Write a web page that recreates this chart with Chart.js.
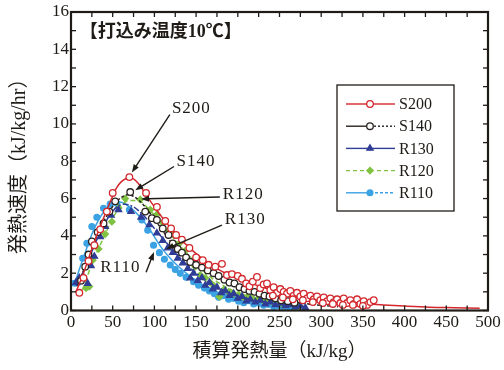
<!DOCTYPE html>
<html>
<head>
<meta charset="utf-8">
<script src="https://cdn.jsdelivr.net/npm/chart.js@4.4.1/dist/chart.umd.min.js"></script>
<style>
  html, body { margin: 0; padding: 0; background: #ffffff; }
  canvas { display: block; }
</style>
</head>
<body>
<canvas id="chart" width="504" height="370" style="width:504px;height:370px"></canvas>
<script>
// ---- measured heat-generation rate vs. cumulative heat (placing temperature 10 °C) ----
const SERIES_NAMES = ['S200', 'S140', 'R130', 'R120', 'R110'];

// measured points [cumulative heat kJ/kg, rate kJ/kg/hr]
const S200_POINTS = [[10,0.95],[15,1.75],[21,2.65],[28,3.5],[35,4.35],[43,5.3],[50,6.3],[70,7.15],[90,6.3],[103,5.55],[113,4.8],[120,4.4],[126,4.05],[133,3.8],[142,3.35],[150,2.85],[158,2.7],[165,2.45],[173,2.35],[181,2.5],[187,1.9],[193,1.95],[200,1.85],[205,1.7],[210,1.45],[214,1.3],[218,1.55],[223,1.8],[227,1.2],[231,1.4],[235,1.45],[239,1.1],[243,1.25],[247,0.95],[251,1.15],[255,1.0],[259,0.9],[263,1.05],[267,0.8],[271,0.95],[275,0.75],[279,0.9],[283,0.65],[287,0.8],[291,0.6],[295,0.75],[299,0.55],[303,0.7],[307,0.5],[311,0.65],[315,0.45],[319,0.6],[323,0.4],[327,0.65],[331,0.4],[335,0.55],[339,0.35],[343,0.6],[347,0.35],[351,0.5],[355,0.3],[359,0.45],[363,0.55],[242,0.8],[254,0.7],[266,0.6],[278,0.55],[290,0.45],[302,0.4],[314,0.35],[326,0.3],[338,0.3],[350,0.25]];
const S140_POINTS = [[12,1.6],[17,2.35],[21,3.0],[25,3.7],[32,4.2],[39,4.67],[46,5.3],[53,5.85],[71,6.35],[89,5.3],[97,4.95],[103,4.85],[110,4.4],[117,4.05],[122,3.6],[128,3.3],[133,3.1],[138,2.85],[143,2.6],[150,2.45],[157,2.3],[164,2.15],[171,2.0],[177,1.85],[184,1.65],[190,1.5],[196,1.45],[202,1.25],[208,1.15],[214,1.05],[220,1.0],[226,0.9],[232,0.8],[238,0.75],[245,0.65],[252,0.55],[260,0.5],[268,0.42]];
const R130_POINTS = [[6,1.5],[10,1.75],[15,1.8],[20,1.45],[24,2.4],[28,2.9],[35,3.95],[41,4.5],[48,5.1],[57,5.4],[72,5.3],[84,5.0],[94,4.6],[103,4.15],[110,3.75],[116,3.35],[122,3.1],[128,2.8],[134,2.55],[140,2.25],[143,1.74],[147,2.0],[152,1.6],[157,1.75],[161,1.35],[166,1.5],[170,1.15],[175,1.25],[180,0.95],[185,1.05],[190,0.8],[195,0.9],[200,0.65],[205,0.75],[210,0.5],[215,0.6],[221,0.45],[227,0.55],[233,0.35],[239,0.45],[245,0.3],[251,0.4],[257,0.25],[263,0.3],[269,0.2],[275,0.25],[281,0.15]];
const R120_POINTS = [[18,1.2],[22,1.28],[26,2.7],[33,3.3],[41,4.1],[49,4.76],[57,5.5],[65,6.0],[83,5.95],[95,5.4],[103,5.15],[110,4.7],[117,4.3],[123,4.05],[130,3.6],[137,3.2],[143,2.7],[149,2.35],[155,1.9],[161,1.75],[167,1.5],[172,1.3],[178,0.74],[183,1.1],[189,1.0],[195,0.9],[201,0.85],[207,0.7],[213,0.8],[219,0.6],[225,0.65],[231,0.5],[237,0.55],[243,0.4],[249,0.45],[255,0.3],[261,0.35],[267,0.25],[273,0.2]];
const R110_POINTS = [[4,1.46],[8,1.5],[14,2.8],[19,3.6],[25,4.5],[31,5.0],[39,5.48],[47,5.7],[55,5.75],[70,5.4],[85,4.85],[92,4.3],[99,3.5],[106,3.1],[112,2.75],[119,2.44],[125,2.2],[131,1.99],[138,1.78],[147,1.54],[153,1.35],[160,1.2],[166,1.05],[172,0.9],[177,0.71],[183,0.8],[189,0.6],[195,0.65],[201,0.5],[207,0.42],[213,0.52],[219,0.35],[225,0.4],[231,0.28],[237,0.33],[243,0.2],[249,0.25],[255,0.15],[261,0.2],[267,0.1],[273,0.15]];

// fitted curves
const S200_FIT = [[6,1.0],[15,2.0],[25,3.3],[35,4.5],[45,5.6],[55,6.6],[65,7.05],[72,7.1],[80,6.85],[90,6.2],[100,5.55],[110,4.95],[120,4.4],[130,3.9],[140,3.45],[150,3.05],[160,2.7],[175,2.25],[190,1.9],[210,1.55],[230,1.25],[250,1.0],[275,0.78],[300,0.6],[325,0.47],[350,0.38],[375,0.3],[400,0.24],[430,0.18],[460,0.15],[490,0.12]];
const S140_FIT = [[8,1.3],[18,2.5],[30,3.9],[42,5.0],[52,5.7],[60,6.05],[68,6.2],[76,6.1],[88,5.6],[100,4.9],[112,4.15],[125,3.4],[140,2.75],[155,2.3],[170,1.95],[190,1.5],[210,1.15],[235,0.8],[260,0.52],[290,0.32],[320,0.2]];
const R130_FIT = [[6,1.3],[18,2.4],[32,3.9],[45,5.0],[55,5.55],[65,5.7],[75,5.55],[88,5.05],[100,4.4],[115,3.6],[130,2.85],[145,2.2],[165,1.5],[190,0.95],[220,0.55],[250,0.32],[280,0.2]];
const R120_FIT = [[14,1.1],[25,2.5],[38,3.8],[50,4.95],[60,5.6],[70,5.9],[80,5.9],[92,5.5],[105,4.85],[120,4.05],[135,3.25],[150,2.5],[170,1.7],[195,1.05],[225,0.62],[255,0.36],[280,0.22]];
const R110_FIT = [[4,1.4],[15,2.85],[28,4.4],[42,5.45],[52,5.8],[60,5.8],[70,5.55],[82,5.05],[95,4.3],[108,3.4],[122,2.65],[138,2.0],[155,1.45],[175,1.0],[200,0.62],[230,0.35],[260,0.2],[280,0.12]];

// axis ranges and ticks
const X_RANGE = [0, 500];
const Y_RANGE = [0, 16];
const X_LABEL_STEP = 50, X_MINOR_STEP = 25;
const Y_LABEL_STEP = 2, Y_MINOR_STEP = 1;

const PANEL_TITLE = '【打込み温度10℃】';
const X_TITLE = '積算発熱量（kJ/kg）';
const Y_TITLE = '発熱速度（kJ/kg/hr）';

// ---- styles ----
const SERIF = '"Liberation Serif", "Noto Sans CJK JP", serif';
const INK = '#1f1b16';
const STYLE = {
  S200: { color: '#d3282d', fill: '#ffffff', pointStyle: 'circle',   radius: 3.3, dash: [],          legendDash: [[], []] },
  S140: { color: '#2a2320', fill: '#ffffff', pointStyle: 'circle',   radius: 3.3, dash: [3, 2],      legendDash: [[], [2, 2]] },
  R130: { color: '#2f3d96', fill: '#2f3d96', pointStyle: 'triangle', radius: 3.6, dash: [6, 2, 2, 2], legendDash: [[], []] },
  R120: { color: '#7fc241', fill: '#7fc241', pointStyle: 'rectRot',  radius: 3.2, dash: [5, 3],      legendDash: [[4, 3], [4, 3]] },
  R110: { color: '#3ba2e3', fill: '#3ba2e3', pointStyle: 'circle',   radius: 2.9, dash: [],          legendDash: [[], [3, 2]] }
};
const POINTS = { S200: S200_POINTS, S140: S140_POINTS, R130: R130_POINTS, R120: R120_POINTS, R110: R110_POINTS };
const FITS = { S200: S200_FIT, S140: S140_FIT, R130: R130_FIT, R120: R120_FIT, R110: R110_FIT };

// callout labels with arrows, in data units
const CALLOUTS = [
  { text: 'S200', at: [121, 10.84], from: [118.5, 10.5], to: [73, 7.4] },
  { text: 'S140', at: [126.5, 7.97], from: [123.5, 7.72], to: [77, 6.45] },
  { text: 'R120', at: [182, 6.19], from: [178.5, 6.08], to: [84, 5.98] },
  { text: 'R130', at: [184.5, 4.85], from: [181, 4.58], to: [114, 3.3] },
  { text: 'R110', at: [35, 2.28], from: [90, 2.05], to: [99.5, 3.13] }
];

const toXY = arr => arr.map(([x, y]) => ({ x, y }));

const datasets = [];
SERIES_NAMES.forEach(name => {
  const s = STYLE[name];
  datasets.push({
    label: name + ' measured',
    type: 'scatter',
    data: toXY(POINTS[name]),
    showLine: false,
    pointStyle: s.pointStyle,
    pointRadius: s.radius,
    pointBorderWidth: 1.3,
    pointBorderColor: s.color,
    pointBackgroundColor: s.fill
  });
  datasets.push({
    label: name,
    type: 'line',
    data: toXY(FITS[name]),
    showLine: true,
    fill: false,
    borderColor: s.color,
    borderWidth: 1.5,
    borderDash: s.dash,
    pointRadius: 0,
    cubicInterpolationMode: 'monotone'
  });
});

function drawLine(ctx, x1, y1, x2, y2) {
  ctx.beginPath(); ctx.moveTo(x1, y1); ctx.lineTo(x2, y2); ctx.stroke();
}

// box frame with inward ticks on all four sides
const framePlugin = {
  id: 'frame',
  afterDatasetsDraw(chart) {
    const { ctx, chartArea: a, scales: { x, y } } = chart;
    ctx.save();
    ctx.strokeStyle = INK;
    ctx.lineWidth = 1.3;
    ctx.setLineDash([]);
    for (let v = X_RANGE[0]; v <= X_RANGE[1]; v += X_MINOR_STEP) {
      const px = x.getPixelForValue(v);
      drawLine(ctx, px, a.bottom, px, a.bottom - 5);
      drawLine(ctx, px, a.top, px, a.top + 5);
    }
    for (let v = Y_RANGE[0]; v <= Y_RANGE[1]; v += Y_MINOR_STEP) {
      const py = y.getPixelForValue(v);
      drawLine(ctx, a.left, py, a.left + 5, py);
      drawLine(ctx, a.right, py, a.right - 5, py);
    }
    ctx.lineWidth = 2.2;
    ctx.strokeRect(a.left, a.top, a.right - a.left, a.bottom - a.top);
    ctx.restore();
  }
};

// panel title, callouts and legend
const notesPlugin = {
  id: 'notes',
  afterDraw(chart) {
    const { ctx, chartArea: a, scales: { x, y } } = chart;
    ctx.save();

    // panel title
    ctx.fillStyle = INK;
    ctx.font = 'bold 18px ' + SERIF;
    ctx.textAlign = 'left';
    ctx.textBaseline = 'middle';
    ctx.fillText(PANEL_TITLE, x.getPixelForValue(10.5), y.getPixelForValue(14.92));

    // callouts
    ctx.font = '17px ' + SERIF;
    if ('letterSpacing' in ctx) ctx.letterSpacing = '1px';
    CALLOUTS.forEach(c => {
      ctx.fillStyle = INK;
      ctx.fillText(c.text, x.getPixelForValue(c.at[0]), y.getPixelForValue(c.at[1]));
      const x1 = x.getPixelForValue(c.from[0]), y1 = y.getPixelForValue(c.from[1]);
      const x2 = x.getPixelForValue(c.to[0]), y2 = y.getPixelForValue(c.to[1]);
      const ang = Math.atan2(y2 - y1, x2 - x1);
      const head = 8, half = 3;
      ctx.strokeStyle = INK;
      ctx.lineWidth = 1.4;
      drawLine(ctx, x1, y1, x2 - Math.cos(ang) * head * 0.8, y2 - Math.sin(ang) * head * 0.8);
      ctx.beginPath();
      ctx.moveTo(x2, y2);
      ctx.lineTo(x2 - Math.cos(ang) * head + Math.sin(ang) * half, y2 - Math.sin(ang) * head - Math.cos(ang) * half);
      ctx.lineTo(x2 - Math.cos(ang) * head - Math.sin(ang) * half, y2 - Math.sin(ang) * head + Math.cos(ang) * half);
      ctx.closePath();
      ctx.fill();
    });
    if ('letterSpacing' in ctx) ctx.letterSpacing = '0px';

    // legend
    const bx = a.left + 266, by = a.top + 73, bw = 117, bh = 126;
    ctx.fillStyle = '#ffffff';
    ctx.fillRect(bx, by, bw, bh);
    ctx.strokeStyle = INK;
    ctx.lineWidth = 1.3;
    ctx.strokeRect(bx, by, bw, bh);
    ctx.font = '16px ' + SERIF;
    SERIES_NAMES.forEach((name, i) => {
      const s = STYLE[name];
      const ry = by + 19 + i * 22.2;
      const mx = bx + 33;
      ctx.strokeStyle = s.color;
      ctx.lineWidth = 1.4;
      ctx.setLineDash(s.legendDash[0]);
      drawLine(ctx, bx + 9, ry, mx, ry);
      ctx.setLineDash(s.legendDash[1]);
      drawLine(ctx, mx, ry, bx + 58, ry);
      ctx.setLineDash([]);
      ctx.fillStyle = s.fill;
      ctx.strokeStyle = s.color;
      ctx.lineWidth = 1.3;
      Chart.helpers.drawPoint(ctx, { pointStyle: s.pointStyle, radius: s.radius, rotation: 0, borderWidth: 1.3 }, mx, ry);
      ctx.fillStyle = INK;
      ctx.textBaseline = 'middle';
      ctx.fillText(name, bx + 62, ry + 1);
    });
    ctx.restore();
  }
};

new Chart(document.getElementById('chart'), {
  type: 'scatter',
  data: { datasets },
  options: {
    responsive: false,
    animation: false,
    devicePixelRatio: 1,
    layout: { padding: { left: 0, right: 16, top: 12, bottom: 0 } },
    plugins: { legend: { display: false }, tooltip: { enabled: false } },
    scales: {
      x: {
        type: 'linear',
        min: X_RANGE[0], max: X_RANGE[1],
        grid: { display: false, drawTicks: false },
        border: { display: false },
        ticks: { stepSize: X_LABEL_STEP, color: INK, padding: 2, maxRotation: 0,
                 font: { family: SERIF, size: 17 } },
        title: { display: true, text: X_TITLE, color: INK,
                 font: { family: SERIF, size: 19 }, padding: { top: 0, bottom: 7 } },
        afterFit(s) { s.height = 59.5; s.paddingLeft = 0; s.paddingRight = 0; }
      },
      y: {
        type: 'linear',
        min: Y_RANGE[0], max: Y_RANGE[1],
        grid: { display: false, drawTicks: false },
        border: { display: false },
        ticks: { stepSize: Y_LABEL_STEP, color: INK, padding: 2,
                 font: { family: SERIF, size: 17 } },
        title: { display: true, text: Y_TITLE, color: INK,
                 font: { family: SERIF, size: 20 }, padding: { top: 8, bottom: 0 } },
        afterFit(s) { s.width = 71; s.paddingTop = 0; s.paddingBottom = 0; }
      }
    }
  },
  plugins: [framePlugin, notesPlugin]
});
</script>
</body>
</html>
